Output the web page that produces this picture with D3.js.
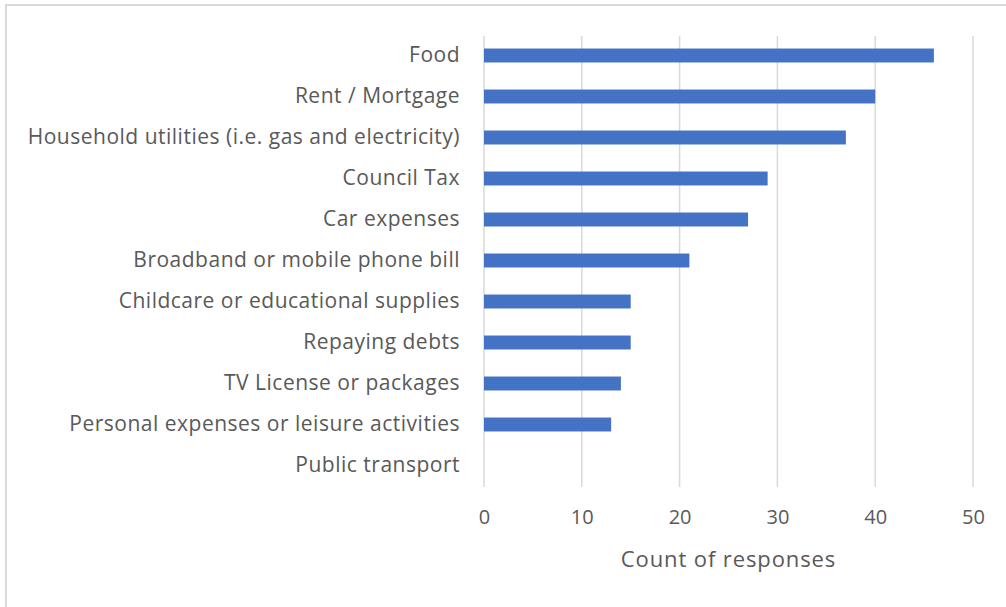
<!DOCTYPE html>
<html>
<head>
<meta charset="utf-8">
<script src="https://cdn.jsdelivr.net/npm/d3@7"></script>
<style>
    body { margin: 0; background: #fff; }
    svg { display: block; }
    text { font-family: 'Open Sans', 'Noto Sans', sans-serif; fill: #595959; }
</style>
</head>
<body>
<svg id="chart" width="1006" height="607"></svg>
<script>
const categories = [
    'Food',
    'Rent / Mortgage',
    'Household utilities (i.e. gas and electricity)',
    'Council Tax',
    'Car expenses',
    'Broadband or mobile phone bill',
    'Childcare or educational supplies',
    'Repaying debts',
    'TV License or packages',
    'Personal expenses or leisure activities',
    'Public transport'
];
const counts = [46, 40, 37, 29, 27, 21, 15, 15, 14, 13, 0];
const xTicks = [0, 10, 20, 30, 40, 50];
const xTitle = 'Count of responses';

const width = 1006;
const height = 607;
const margin = { top: 35, right: 33, bottom: 121, left: 484 };

const svg = d3.select('#chart');

// frame (only top/left edges fall inside the picture)
svg.append('rect')
    .attr('x', 6)
    .attr('y', 5)
    .attr('width', width + 10)
    .attr('height', height + 10)
    .attr('fill', 'none')
    .attr('stroke', '#d9d9d9')
    .attr('stroke-width', 2);

const x = d3.scaleLinear()
    .domain([0, 50])
    .range([margin.left, width - margin.right]);

const y = d3.scaleBand()
    .domain(categories)
    .range([margin.top, height - margin.bottom])
    .paddingInner(0.66)
    .paddingOuter(0.33);

// gridlines
svg.append('g')
    .selectAll('line')
    .data(xTicks)
    .join('line')
    .attr('x1', d => x(d))
    .attr('x2', d => x(d))
    .attr('y1', margin.top + 1)
    .attr('y2', height - margin.bottom + 1)
    .attr('stroke', '#d9d9d9')
    .attr('stroke-width', 1.5);

// bars
svg.append('g')
    .selectAll('rect')
    .data(categories)
    .join('rect')
    .attr('x', x(0))
    .attr('y', d => y(d))
    .attr('width', (d, i) => x(counts[i]) - x(0))
    .attr('height', y.bandwidth())
    .attr('fill', '#4472c4');

// x axis labels
const xAxis = svg.append('g')
    .attr('transform', `translate(0, ${height - margin.bottom})`)
    .call(d3.axisBottom(x).tickValues(xTicks).tickSize(0).tickPadding(24));
xAxis.select('.domain').remove();
xAxis.selectAll('text')
    .style('font-size', '20px')
    .attr('fill', '#595959');

// y axis labels
const yAxis = svg.append('g')
    .attr('transform', `translate(${margin.left}, 0)`)
    .call(d3.axisLeft(y).tickSize(0).tickPadding(24));
yAxis.select('.domain').remove();
yAxis.selectAll('text')
    .style('font-size', '21px')
    .style('letter-spacing', '0.5px')
    .attr('fill', '#595959');

// axis title
svg.append('text')
    .attr('x', (x(0) + x(50)) / 2)
    .attr('y', 567)
    .attr('text-anchor', 'middle')
    .style('font-size', '22px')
    .style('letter-spacing', '0.9px')
    .text(xTitle);
</script>
</body>
</html>
